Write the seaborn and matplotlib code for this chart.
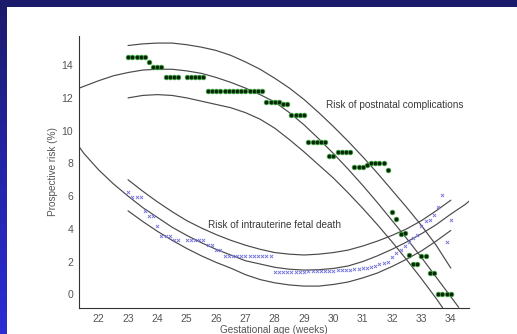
import numpy as np
import pandas as pd
import matplotlib
matplotlib.use("Agg")
import matplotlib.pyplot as plt
import seaborn as sns
from matplotlib.patches import Rectangle
from matplotlib.colors import LinearSegmentedColormap

# ---------------- data ----------------
early_days = [23.00, 23.14, 23.29, 23.43, 23.57, 23.71, 23.86, 24.00, 24.14, 24.29, 24.43, 24.57, 24.71]
late_days = [25.00, 25.14, 25.29, 25.43, 25.57, 25.71, 25.86,
             26.00, 26.14, 26.29, 26.43, 26.57, 26.71, 26.86,
             27.00, 27.14, 27.29, 27.43, 27.57, 27.71, 27.86,
             28.00, 28.14, 28.29, 28.43, 28.57, 28.71, 28.86,
             29.00, 29.14, 29.29, 29.43, 29.57, 29.71, 29.86,
             30.00, 30.14, 30.29, 30.43, 30.57, 30.71, 30.86,
             31.00, 31.14, 31.29, 31.43, 31.57, 31.71, 31.86,
             32.00, 32.14, 32.29, 32.43, 32.57, 32.71, 32.86,
             33.00, 33.14, 33.29, 33.43, 33.57, 33.71, 33.86,
             34.00]
obs_weeks = early_days + late_days

postnatal_risk = [14.5, 14.5, 14.5, 14.5, 14.5, 14.2, 13.9, 13.9, 13.9, 13.27, 13.27, 13.27, 13.27,
                  13.27, 13.27, 13.27, 13.27, 13.27, 12.44, 12.44,
                  12.44, 12.44, 12.44, 12.44, 12.44, 12.44, 12.44,
                  12.44, 12.44, 12.44, 12.44, 12.44, 11.75, 11.75,
                  11.75, 11.75, 11.6, 11.6, 10.95, 10.95, 10.95,
                  10.95, 9.31, 9.31, 9.31, 9.31, 9.31, 8.43,
                  8.43, 8.7, 8.7, 8.7, 8.7, 7.75, 7.75,
                  7.75, 7.9, 8.0, 8.0, 8.0, 8.0, 7.58,
                  5.04, 4.59, 3.66, 3.74, 2.4, 1.85, 1.85,
                  2.33, 2.33, 1.28, 1.28, 0.0, 0.0, 0.0,
                  0.0]

fetal_death_risk = [6.26, 5.95, 5.95, 5.95, 5.1, 4.77, 4.77, 4.16, 3.55, 3.55, 3.55, 3.29, 3.29,
                    3.29, 3.29, 3.29, 3.29, 3.29, 2.99, 2.99,
                    2.7, 2.7, 2.35, 2.35, 2.35, 2.35, 2.35,
                    2.35, 2.35, 2.35, 2.35, 2.35, 2.35, 2.35,
                    1.36, 1.36, 1.36, 1.37, 1.37, 1.38, 1.38,
                    1.39, 1.40, 1.40, 1.41, 1.42, 1.43, 1.44,
                    1.45, 1.46, 1.48, 1.49, 1.51, 1.53, 1.55,
                    1.58, 1.62, 1.68, 1.75, 1.82, 1.90, 1.97,
                    2.29, 2.5, 2.7, 2.95, 3.21, 3.41, 3.62,
                    4.18, 4.47, 4.53, 4.84, 5.34, 6.05, 3.21,
                    4.53]

# fitted curves
post_fit_weeks = [21.34, 22.0, 22.5, 23.0, 23.5, 24.0, 24.5, 25.0, 25.5, 26.0, 26.5, 27.0, 27.5, 28.0,
                  28.5, 29.0, 29.5, 30.0, 30.5, 31.0, 31.5, 32.0, 32.5, 33.0, 33.5, 34.0, 34.27]
post_fit = [12.6, 13.05, 13.35, 13.55, 13.7, 13.75, 13.75, 13.65, 13.5, 13.25, 12.95, 12.6, 12.2, 11.75,
            11.1, 10.35, 9.5, 8.6, 7.65, 6.65, 5.6, 4.5, 3.4, 2.25, 1.05, -0.15, -0.8]
post_low_weeks = [23.0, 23.5, 24.0, 24.5, 25.0, 25.5, 26.0, 26.5, 27.0, 27.5, 28.0, 28.5, 29.0, 29.5,
                  30.0, 30.5, 31.0, 31.5, 32.0, 32.5, 33.0, 33.5, 33.72]
post_low = [12.0, 12.15, 12.2, 12.15, 12.0, 11.8, 11.6, 11.4, 11.1, 10.7, 10.15, 9.45, 8.7, 7.9,
            7.1, 6.2, 5.25, 4.25, 3.2, 2.1, 0.95, -0.25, -0.82]
post_up_weeks = [23.0, 23.5, 24.0, 24.5, 25.0, 25.5, 26.0, 26.5, 27.0, 27.5, 28.0, 28.5, 29.0, 29.5,
                 30.0, 30.5, 31.0, 31.5, 32.0, 32.5, 33.0, 33.5, 34.0]
post_up = [15.2, 15.3, 15.35, 15.35, 15.25, 15.1, 14.9, 14.6, 14.2, 13.75, 13.2, 12.6, 11.9, 11.1,
           10.25, 9.35, 8.4, 7.4, 6.35, 5.3, 4.2, 3.0, 1.6]

fetal_fit_weeks = [21.34, 21.5, 22.0, 22.5, 23.0, 23.5, 24.0, 24.5, 25.0, 25.5, 26.0, 26.5, 27.0, 27.5,
                   28.0, 28.5, 29.0, 29.5, 30.0, 30.5, 31.0, 31.5, 32.0, 32.5, 33.0, 33.5, 34.0, 34.5, 34.63]
fetal_fit = [9.0, 8.6, 7.6, 6.75, 6.0, 5.3, 4.7, 4.1, 3.6, 3.15, 2.75, 2.4, 2.05, 1.85,
             1.65, 1.53, 1.48, 1.5, 1.58, 1.73, 2.0, 2.35, 2.75, 3.2, 3.7, 4.25, 4.9, 5.5, 5.7]
fetal_band_weeks = [23.0, 23.5, 24.0, 24.5, 25.0, 25.5, 26.0, 26.5, 27.0, 27.5, 28.0, 28.5, 29.0, 29.5,
                    30.0, 30.5, 31.0, 31.5, 32.0, 32.5, 33.0, 33.5, 34.0]
fetal_up = [7.0, 6.3, 5.65, 5.05, 4.5, 4.05, 3.65, 3.3, 3.0, 2.75, 2.55, 2.45, 2.4, 2.45,
            2.55, 2.7, 2.95, 3.25, 3.6, 4.0, 4.5, 5.1, 5.75]
fetal_low = [5.1, 4.45, 3.85, 3.3, 2.8, 2.35, 1.95, 1.6, 1.2, 0.9, 0.7, 0.57, 0.5, 0.5,
             0.6, 0.75, 1.0, 1.3, 1.7, 2.15, 2.65, 3.25, 3.9]

x_ticks = [22, 23, 24, 25, 26, 27, 28, 29, 30, 31, 32, 33, 34]
y_ticks = [0, 2, 4, 6, 8, 10, 12, 14]

# ---------------- style ----------------
sns.set_theme(style="white")
plt.rcParams["font.family"] = ["Liberation Sans", "DejaVu Sans"]

W, H = 517, 334
fig = plt.figure(figsize=(W / 100, H / 100), dpi=100)

# slide background: blue gradient frame with white panel
bg = fig.add_axes([0, 0, 1, 1], zorder=0)
cmap = LinearSegmentedColormap.from_list("slide", ["#1b1b6a", "#2424a8", "#2c2cd4"])
bg.imshow(np.linspace(0, 1, 256).reshape(-1, 1), aspect="auto", cmap=cmap,
          extent=[0, 1, 0, 1])
bg.add_patch(Rectangle((7 / W, 0), 1, 1 - 7 / H, transform=bg.transAxes,
                       facecolor="white", edgecolor="none"))
bg.set_xlim(0, 1)
bg.set_ylim(0, 1)
bg.axis("off")

ax = fig.add_axes([79.3 / W, 1 - 307.7 / H, (469 - 79.3) / W, (307.7 - 35.7) / H], zorder=1)
ax.patch.set_alpha(0)

line_kw = dict(color="#4a4a4a", linewidth=0.85, ax=ax, legend=False)
for xs, ys in [(post_fit_weeks, post_fit), (post_low_weeks, post_low), (post_up_weeks, post_up),
               (fetal_fit_weeks, fetal_fit), (fetal_band_weeks, fetal_up), (fetal_band_weeks, fetal_low)]:
    sns.lineplot(x=xs, y=ys, **line_kw)

sns.scatterplot(x=obs_weeks, y=fetal_death_risk, ax=ax, marker="x", s=5,
                color="#7676dc", linewidth=0.65, zorder=3, legend=False)
sns.scatterplot(x=obs_weeks, y=postnatal_risk, ax=ax, marker="o", s=11,
                color="#0a240a", edgecolor="#3da03d", linewidth=0.6, zorder=4, legend=False)

ax.text(29.76, 11.54, "Risk of postnatal complications", fontsize=7.2, color="#3a3a3a",
        ha="left", va="center")
ax.text(25.73, 4.22, "Risk of intrauterine fetal death", fontsize=7.2, color="#3a3a3a",
        ha="left", va="center")

ax.set_xlim(21.34, 34.62)
ax.set_ylim(-0.82, 15.8)
ax.set_xticks(x_ticks)
ax.set_yticks(y_ticks)
for s in ["top", "right"]:
    ax.spines[s].set_visible(False)
for s in ["left", "bottom"]:
    ax.spines[s].set_color("#333333")
    ax.spines[s].set_linewidth(0.8)
ax.tick_params(axis="both", direction="out", length=3, width=0.8, color="#333333",
               labelsize=7.5, labelcolor="#555555", pad=1.5)
ax.set_xlabel("Gestational age (weeks)", fontsize=7.2, color="#555555")
ax.set_ylabel("Prospective risk (%)", fontsize=7.2, color="#555555")
ax.xaxis.set_label_coords(0.5, -0.062)
ax.yaxis.set_label_coords(-0.055, 0.5)
ax.grid(False)

fig.savefig("out.png", dpi=100)
